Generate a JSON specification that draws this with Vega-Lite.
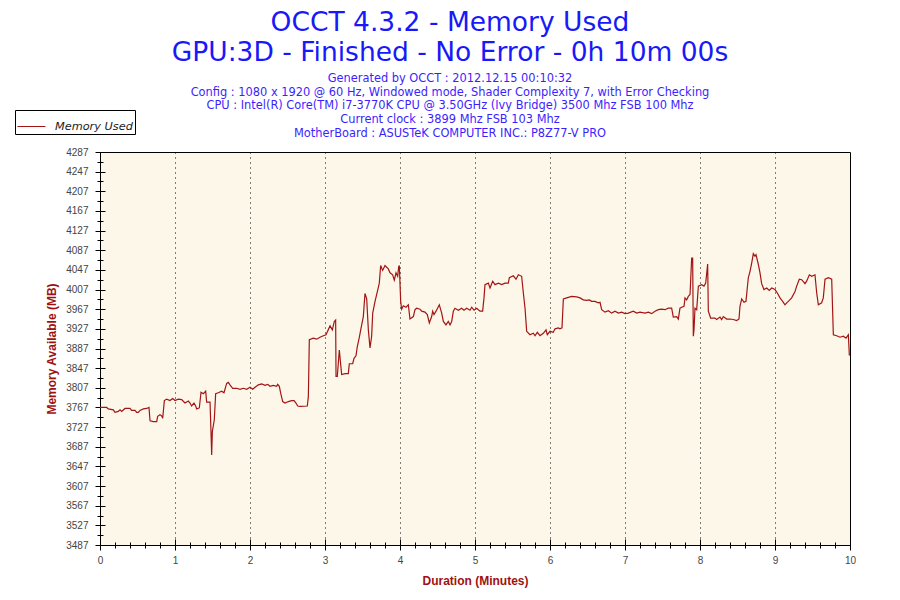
{
  "$schema": "https://vega.github.io/schema/vega-lite/v6.json",
  "width": 750,
  "height": 393,
  "autosize": "none",
  "padding": {"left": 100, "top": 152, "right": 50, "bottom": 55},
  "background": "white",
  "view": {"fill": "#fdf7e9", "stroke": "black", "strokeWidth": 1},
  "config": {
    "axis": {
      "domainColor": "black", "domainWidth": 1, "tickColor": "black", "tickWidth": 1,
      "labelFont": "Liberation Sans", "labelFontSize": 10, "labelColor": "#444444",
      "titleFont": "Liberation Sans", "titleFontSize": 12, "titleFontWeight": "bold", "titleColor": "#9e1111",
      "labelOverlap": false, "labelFlush": false
    }
  },
  "title": {
    "text": ["OCCT 4.3.2 - Memory Used", "GPU:3D - Finished - No Error - 0h 10m 00s"],
    "subtitle": [
      "Generated by OCCT : 2012.12.15 00:10:32",
      "Config : 1080 x 1920 @ 60 Hz, Windowed mode, Shader Complexity 7, with Error Checking",
      "CPU : Intel(R) Core(TM) i7-3770K CPU @ 3.50GHz (Ivy Bridge) 3500 Mhz FSB 100 Mhz",
      "Current clock : 3899 Mhz FSB 103 Mhz",
      "MotherBoard : ASUSTeK COMPUTER INC.: P8Z77-V PRO"
    ],
    "font": "DejaVu Sans", "fontSize": 26.5, "fontWeight": "normal", "color": "#1818f8", "lineHeight": 30,
    "subtitleFont": "DejaVu Sans", "subtitleFontSize": 11.4, "subtitleColor": "#3c1eff", "subtitleLineHeight": 13.8,
    "subtitlePadding": 6, "anchor": "middle", "dx": -25, "offset": -30
  },
  "data": {"values": [
    {"t":0,"v":3767},{"t":0.089,"v":3767},{"t":0.111,"v":3764},{"t":0.178,"v":3762},{"t":0.2,"v":3757},{"t":0.244,"v":3759},{"t":0.267,"v":3762},{"t":0.289,"v":3759},{"t":0.333,"v":3765},{"t":0.4,"v":3765},{"t":0.422,"v":3761},{"t":0.467,"v":3761},{"t":0.489,"v":3757},{"t":0.511,"v":3757},{"t":0.533,"v":3761},{"t":0.578,"v":3764},{"t":0.622,"v":3765},{"t":0.653,"v":3767},{"t":0.667,"v":3740},{"t":0.711,"v":3738},{"t":0.756,"v":3738},{"t":0.769,"v":3749},{"t":0.8,"v":3752},{"t":0.822,"v":3750},{"t":0.836,"v":3745},{"t":0.858,"v":3781},{"t":0.889,"v":3784},{"t":0.933,"v":3781},{"t":0.969,"v":3785},{"t":1.0,"v":3781},{"t":1.044,"v":3784},{"t":1.089,"v":3783},{"t":1.133,"v":3776},{"t":1.178,"v":3780},{"t":1.2,"v":3776},{"t":1.222,"v":3770},{"t":1.253,"v":3776},{"t":1.276,"v":3770},{"t":1.289,"v":3764},{"t":1.324,"v":3766},{"t":1.347,"v":3798},{"t":1.378,"v":3795},{"t":1.409,"v":3800},{"t":1.422,"v":3778},{"t":1.467,"v":3778},{"t":1.48,"v":3717},{"t":1.489,"v":3670},{"t":1.498,"v":3718},{"t":1.524,"v":3742},{"t":1.542,"v":3795},{"t":1.578,"v":3797},{"t":1.622,"v":3800},{"t":1.653,"v":3797},{"t":1.689,"v":3816},{"t":1.711,"v":3818},{"t":1.733,"v":3813},{"t":1.769,"v":3806},{"t":1.822,"v":3806},{"t":1.867,"v":3804},{"t":1.911,"v":3806},{"t":1.956,"v":3804},{"t":2.0,"v":3808},{"t":2.036,"v":3804},{"t":2.067,"v":3808},{"t":2.111,"v":3813},{"t":2.156,"v":3815},{"t":2.2,"v":3812},{"t":2.236,"v":3814},{"t":2.267,"v":3810},{"t":2.311,"v":3812},{"t":2.356,"v":3810},{"t":2.369,"v":3814},{"t":2.391,"v":3810},{"t":2.409,"v":3796},{"t":2.436,"v":3779},{"t":2.467,"v":3776},{"t":2.511,"v":3779},{"t":2.556,"v":3781},{"t":2.587,"v":3781},{"t":2.613,"v":3776},{"t":2.636,"v":3770},{"t":2.667,"v":3769},{"t":2.764,"v":3770},{"t":2.778,"v":3789},{"t":2.791,"v":3905},{"t":2.844,"v":3908},{"t":2.889,"v":3906},{"t":2.933,"v":3910},{"t":2.978,"v":3913},{"t":3.013,"v":3915},{"t":3.067,"v":3933},{"t":3.098,"v":3925},{"t":3.124,"v":3942},{"t":3.142,"v":3945},{"t":3.147,"v":3830},{"t":3.164,"v":3830},{"t":3.191,"v":3884},{"t":3.209,"v":3855},{"t":3.222,"v":3834},{"t":3.267,"v":3836},{"t":3.311,"v":3836},{"t":3.324,"v":3856},{"t":3.369,"v":3856},{"t":3.387,"v":3867},{"t":3.413,"v":3872},{"t":3.431,"v":3891},{"t":3.458,"v":3910},{"t":3.489,"v":3935},{"t":3.511,"v":3952},{"t":3.533,"v":3999},{"t":3.556,"v":3988},{"t":3.578,"v":3925},{"t":3.6,"v":3888},{"t":3.622,"v":3912},{"t":3.636,"v":3959},{"t":3.667,"v":3983},{"t":3.698,"v":4003},{"t":3.724,"v":4020},{"t":3.742,"v":4056},{"t":3.769,"v":4046},{"t":3.8,"v":4056},{"t":3.844,"v":4049},{"t":3.867,"v":4041},{"t":3.902,"v":4037},{"t":3.924,"v":4026},{"t":3.947,"v":4041},{"t":3.969,"v":4034},{"t":3.982,"v":4053},{"t":3.991,"v":4056},{"t":4.009,"v":3983},{"t":4.022,"v":3967},{"t":4.044,"v":3974},{"t":4.08,"v":3971},{"t":4.111,"v":3976},{"t":4.133,"v":3947},{"t":4.178,"v":3952},{"t":4.2,"v":3966},{"t":4.222,"v":3969},{"t":4.267,"v":3967},{"t":4.289,"v":3963},{"t":4.333,"v":3961},{"t":4.364,"v":3956},{"t":4.391,"v":3939},{"t":4.422,"v":3952},{"t":4.436,"v":3963},{"t":4.453,"v":3956},{"t":4.48,"v":3963},{"t":4.524,"v":3976},{"t":4.556,"v":3959},{"t":4.578,"v":3942},{"t":4.613,"v":3935},{"t":4.644,"v":3942},{"t":4.667,"v":3935},{"t":4.689,"v":3942},{"t":4.711,"v":3963},{"t":4.733,"v":3969},{"t":4.778,"v":3965},{"t":4.822,"v":3969},{"t":4.853,"v":3965},{"t":4.889,"v":3969},{"t":4.933,"v":3965},{"t":4.956,"v":3971},{"t":4.987,"v":3965},{"t":5.022,"v":3969},{"t":5.067,"v":3963},{"t":5.102,"v":3963},{"t":5.12,"v":3990},{"t":5.133,"v":4017},{"t":5.178,"v":4020},{"t":5.2,"v":4010},{"t":5.236,"v":4024},{"t":5.267,"v":4017},{"t":5.311,"v":4020},{"t":5.356,"v":4017},{"t":5.4,"v":4020},{"t":5.444,"v":4020},{"t":5.458,"v":4031},{"t":5.511,"v":4035},{"t":5.547,"v":4028},{"t":5.578,"v":4037},{"t":5.622,"v":4034},{"t":5.644,"v":4001},{"t":5.667,"v":3969},{"t":5.689,"v":3922},{"t":5.733,"v":3915},{"t":5.778,"v":3918},{"t":5.8,"v":3913},{"t":5.831,"v":3920},{"t":5.867,"v":3913},{"t":5.911,"v":3918},{"t":5.947,"v":3925},{"t":5.964,"v":3915},{"t":6.0,"v":3922},{"t":6.044,"v":3920},{"t":6.067,"v":3927},{"t":6.111,"v":3929},{"t":6.133,"v":3927},{"t":6.16,"v":3929},{"t":6.178,"v":3988},{"t":6.222,"v":3990},{"t":6.289,"v":3993},{"t":6.356,"v":3992},{"t":6.4,"v":3990},{"t":6.444,"v":3986},{"t":6.489,"v":3985},{"t":6.524,"v":3986},{"t":6.556,"v":3983},{"t":6.6,"v":3983},{"t":6.644,"v":3980},{"t":6.667,"v":3981},{"t":6.689,"v":3966},{"t":6.733,"v":3961},{"t":6.778,"v":3964},{"t":6.822,"v":3959},{"t":6.867,"v":3963},{"t":6.911,"v":3959},{"t":6.956,"v":3961},{"t":7.0,"v":3958},{"t":7.044,"v":3959},{"t":7.111,"v":3963},{"t":7.156,"v":3959},{"t":7.2,"v":3961},{"t":7.267,"v":3959},{"t":7.311,"v":3961},{"t":7.356,"v":3958},{"t":7.4,"v":3963},{"t":7.444,"v":3966},{"t":7.489,"v":3967},{"t":7.533,"v":3966},{"t":7.578,"v":3969},{"t":7.622,"v":3969},{"t":7.644,"v":3951},{"t":7.689,"v":3952},{"t":7.711,"v":3947},{"t":7.733,"v":3969},{"t":7.756,"v":3971},{"t":7.787,"v":3973},{"t":7.8,"v":3990},{"t":7.822,"v":3986},{"t":7.844,"v":3993},{"t":7.867,"v":3997},{"t":7.889,"v":4071},{"t":7.902,"v":4071},{"t":7.911,"v":3912},{"t":7.92,"v":3925},{"t":7.933,"v":3969},{"t":7.956,"v":3966},{"t":7.978,"v":4014},{"t":8.022,"v":4017},{"t":8.053,"v":4014},{"t":8.076,"v":4020},{"t":8.102,"v":4059},{"t":8.111,"v":3963},{"t":8.142,"v":3949},{"t":8.2,"v":3949},{"t":8.222,"v":3946},{"t":8.267,"v":3951},{"t":8.289,"v":3946},{"t":8.311,"v":3952},{"t":8.356,"v":3947},{"t":8.4,"v":3947},{"t":8.444,"v":3946},{"t":8.489,"v":3944},{"t":8.52,"v":3947},{"t":8.533,"v":3973},{"t":8.556,"v":3988},{"t":8.587,"v":3981},{"t":8.613,"v":3983},{"t":8.644,"v":4031},{"t":8.667,"v":4044},{"t":8.689,"v":4061},{"t":8.711,"v":4080},{"t":8.733,"v":4075},{"t":8.747,"v":4078},{"t":8.778,"v":4058},{"t":8.8,"v":4041},{"t":8.822,"v":4019},{"t":8.853,"v":4007},{"t":8.889,"v":4010},{"t":8.924,"v":4005},{"t":8.956,"v":4010},{"t":9.0,"v":4007},{"t":9.031,"v":4000},{"t":9.067,"v":3990},{"t":9.102,"v":3983},{"t":9.133,"v":3976},{"t":9.156,"v":3980},{"t":9.191,"v":3985},{"t":9.222,"v":3990},{"t":9.267,"v":4003},{"t":9.289,"v":4014},{"t":9.324,"v":4028},{"t":9.356,"v":4027},{"t":9.4,"v":4019},{"t":9.422,"v":4024},{"t":9.458,"v":4037},{"t":9.489,"v":4034},{"t":9.533,"v":4037},{"t":9.556,"v":4000},{"t":9.578,"v":3976},{"t":9.622,"v":3980},{"t":9.644,"v":3990},{"t":9.667,"v":4028},{"t":9.711,"v":4031},{"t":9.756,"v":4028},{"t":9.778,"v":3915},{"t":9.822,"v":3913},{"t":9.867,"v":3910},{"t":9.911,"v":3912},{"t":9.947,"v":3908},{"t":9.978,"v":3915},{"t":9.991,"v":3874},{"t":10,"v":3874}
  ]},
  "layer": [
    {
      "mark": {"type": "line", "strokeWidth": 1.2, "interpolate": "linear"},
      "encoding": {
        "x": {"field": "t", "type": "quantitative", "scale": {"domain": [0, 10], "nice": false, "zero": false},
          "axis": {"title": "Duration (Minutes)", "titlePadding": 10,
            "values": [0,0.2,0.4,0.6,0.8,1,1.2,1.4,1.6,1.8,2,2.2,2.4,2.6,2.8,3,3.2,3.4,3.6,3.8,4,4.2,4.4,4.6,4.8,5,5.2,5.4,5.6,5.8,6,6.2,6.4,6.6,6.8,7,7.2,7.4,7.6,7.8,8,8.2,8.4,8.6,8.8,9,9.2,9.4,9.6,9.8,10],
            "labelExpr": "abs(datum.value - round(datum.value)) < 0.01 ? format(round(datum.value), 'd') : ''",
            "tickSize": {"condition": {"test": "abs(datum.value - round(datum.value)) < 0.01", "value": 5}, "value": 3},
            "labelPadding": 5,
            "grid": true, "gridColor": "black", "gridDash": [1, 4], "gridWidth": 1,
            "gridOpacity": {"condition": {"test": "abs(datum.value - round(datum.value)) < 0.01 && datum.value > 0.5 && datum.value < 9.5", "value": 1}, "value": 0}}},
        "y": {"field": "v", "type": "quantitative", "scale": {"domain": [3487, 4287], "nice": false, "zero": false},
          "axis": {"title": "Memory Available (MB)", "titlePadding": 7,
            "values": [3487,3507,3527,3547,3567,3587,3607,3627,3647,3667,3687,3707,3727,3747,3767,3787,3807,3827,3847,3867,3887,3907,3927,3947,3967,3987,4007,4027,4047,4067,4087,4107,4127,4147,4167,4187,4207,4227,4247,4267,4287],
            "labelExpr": "(round(datum.value) - 3487) % 40 == 0 ? format(round(datum.value), 'd') : ''",
            "tickSize": {"condition": {"test": "(round(datum.value) - 3487) % 40 == 0", "value": 5}, "value": 3},
            "labelPadding": 7, "grid": false}},
        "color": {"datum": "Memory Used", "type": "nominal", "scale": {"range": ["#a31515"]},
          "legend": {"title": null, "orient": "none", "legendX": -85, "legendY": -42,
            "symbolType": "stroke", "symbolSize": 784, "symbolStrokeWidth": 1,
            "labelFont": "DejaVu Sans", "labelFontStyle": "italic", "labelFontSize": 11.3, "labelColor": "#222222",
            "labelOffset": 9, "strokeColor": "black", "fillColor": "white", "padding": 2, "cornerRadius": 0}}
      }
    },
    {
      "mark": {"type": "line", "strokeOpacity": 0},
      "encoding": {
        "x": {"field": "t", "type": "quantitative",
          "axis": {"orient": "bottom", "title": null, "labels": false, "domain": false, "grid": false,
            "values": [0,0.2,0.4,0.6,0.8,1,1.2,1.4,1.6,1.8,2,2.2,2.4,2.6,2.8,3,3.2,3.4,3.6,3.8,4,4.2,4.4,4.6,4.8,5,5.2,5.4,5.6,5.8,6,6.2,6.4,6.6,6.8,7,7.2,7.4,7.6,7.8,8,8.2,8.4,8.6,8.8,9,9.2,9.4,9.6,9.8,10],
            "tickSize": {"condition": {"test": "abs(datum.value - round(datum.value)) < 0.01", "value": -6}, "value": -3}}},
        "y": {"field": "v", "type": "quantitative",
          "axis": {"orient": "left", "title": null, "labels": false, "domain": false, "grid": false,
            "values": [3487,3507,3527,3547,3567,3587,3607,3627,3647,3667,3687,3707,3727,3747,3767,3787,3807,3827,3847,3867,3887,3907,3927,3947,3967,3987,4007,4027,4047,4067,4087,4107,4127,4147,4167,4187,4207,4227,4247,4267,4287],
            "tickSize": {"condition": {"test": "(round(datum.value) - 3487) % 40 == 0", "value": -5}, "value": -3}}}
      }
    }
  ],
  "resolve": {"axis": {"x": "independent", "y": "independent"}}
}
